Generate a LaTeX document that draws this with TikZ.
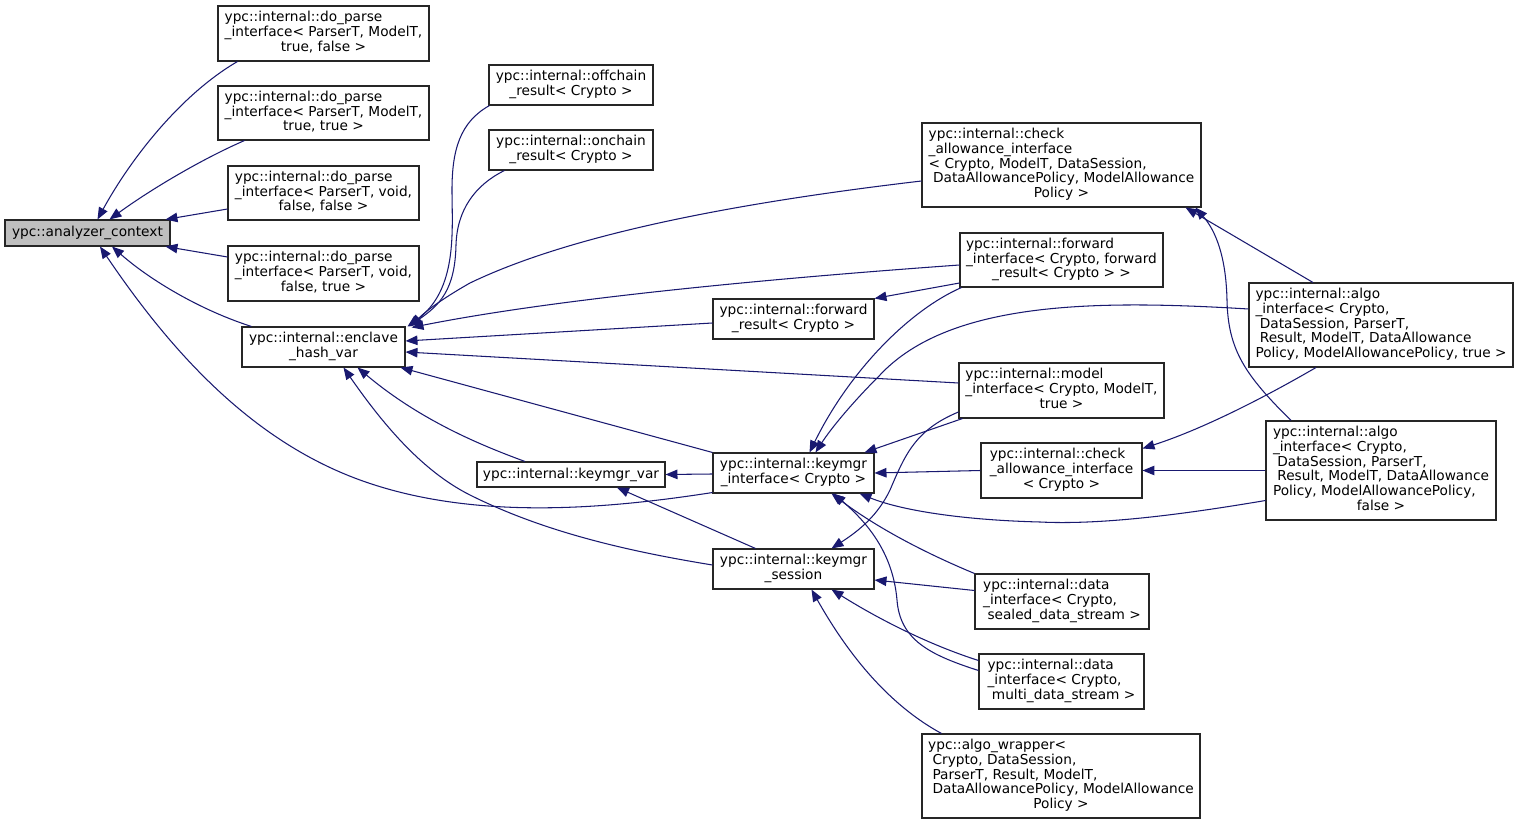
\documentclass[tikz,border=0pt]{standalone}
\usepackage{fontspec}
\setmainfont{DejaVu Sans}
\usetikzlibrary{arrows.meta,calc}
\definecolor{edgec}{RGB}{25,25,112}
\definecolor{acfill}{RGB}{191,191,191}
\newcommand{\mycl}[1]{\multicolumn{1}{@{}c@{}}{#1}}
\newcommand{\mylbl}[1]{\begin{tabular}{@{}l@{}}#1\end{tabular}}
\renewcommand{\arraystretch}{1}
\tikzset{
  box/.style={draw=black!85, line width=0.6pt, inner sep=0pt, align=center, fill=white},
  sz/.style 2 args={minimum width=#1*0.02cm, minimum height=#2*0.02cm},
  inh/.style={draw=edgec, line width=0.6pt, -{Triangle[length=6.8pt,width=5.4pt]}, fill=none}
}
\begin{document}
\begin{tikzpicture}[x=0.02cm, y=-0.02cm, font=\fontsize{7.8}{8.2}\selectfont]
\fill[white] (0,0) rectangle (1519,824);
\useasboundingbox (0,0) rectangle (1519,824);

% nodes
\node[box, sz={165}{26}, fill=acfill] (AC) at (87.5,233) {ypc::analyzer\_context};
\node[box, sz={211}{55}] (dp1) at (323.5,33.5) {\mylbl{ypc::internal::do\_parse\\\_interface< ParserT, ModelT,\\\mycl{true, false >}}};
\node[box, sz={211}{54}] (dp2) at (323.5,113) {\mylbl{ypc::internal::do\_parse\\\_interface< ParserT, ModelT,\\\mycl{true, true >}}};
\node[box, sz={191}{54}] (dp3) at (323.5,193) {\mylbl{ypc::internal::do\_parse\\\_interface< ParserT, void,\\\mycl{false, false >}}};
\node[box, sz={191}{55}] (dp4) at (323.5,273.5) {\mylbl{ypc::internal::do\_parse\\\_interface< ParserT, void,\\\mycl{false, true >}}};
\node[box, sz={163}{40}] (EH) at (323.5,347) {\mylbl{ypc::internal::enclave\\\mycl{\_hash\_var}}};
\node[box, sz={164}{40}] (OFF) at (571,85) {\mylbl{ypc::internal::offchain\\\mycl{\_result< Crypto >}}};
\node[box, sz={164}{40}] (ON) at (571,150) {\mylbl{ypc::internal::onchain\\\mycl{\_result< Crypto >}}};
\node[box, sz={279}{84}] (CB) at (1061.5,165) {\mylbl{ypc::internal::check\\\_allowance\_interface\\< Crypto, ModelT, DataSession,\\\ DataAllowancePolicy, ModelAllowance\\\mycl{Policy >}}};
\node[box, sz={203}{54}] (FI) at (1061.5,260) {\mylbl{ypc::internal::forward\\\_interface< Crypto, forward\\\mycl{\_result< Crypto > >}}};
\node[box, sz={161}{40}] (FR) at (793.5,319) {\mylbl{ypc::internal::forward\\\mycl{\_result< Crypto >}}};
\node[box, sz={264}{84}] (AT) at (1381,325) {\mylbl{ypc::internal::algo\\\_interface< Crypto,\\\ DataSession, ParserT,\\\ Result, ModelT, DataAllowance\\\mycl{Policy, ModelAllowancePolicy, true >}}};
\node[box, sz={205}{55}] (MI) at (1061.5,390.5) {\mylbl{ypc::internal::model\\\_interface< Crypto, ModelT,\\\mycl{true >}}};
\node[box, sz={161}{40}] (KI) at (793.5,473) {\mylbl{ypc::internal::keymgr\\\mycl{\_interface< Crypto >}}};
\node[box, sz={188}{25}] (KV) at (571,474.5) {ypc::internal::keymgr\_var};
\node[box, sz={161}{55}] (CS) at (1061.5,470.5) {\mylbl{ypc::internal::check\\\_allowance\_interface\\\mycl{< Crypto >}}};
\node[box, sz={230}{99}] (AF) at (1381,470.5) {\mylbl{ypc::internal::algo\\\_interface< Crypto,\\\ DataSession, ParserT,\\\ Result, ModelT, DataAllowance\\Policy, ModelAllowancePolicy,\\\mycl{false >}}};
\node[box, sz={161}{40}] (KS) at (793.5,569) {\mylbl{ypc::internal::keymgr\\\mycl{\_session}}};
\node[box, sz={174}{55}] (DS) at (1062,601.5) {\mylbl{ypc::internal::data\\\_interface< Crypto,\\\mycl{\ sealed\_data\_stream >}}};
\node[box, sz={165}{55}] (DM) at (1061.5,681.5) {\mylbl{ypc::internal::data\\\_interface< Crypto,\\\mycl{\ multi\_data\_stream >}}};
\node[box, sz={278}{84}] (AW) at (1061,776) {\mylbl{ypc::algo\_wrapper<\\\ Crypto, DataSession,\\\ ParserT, Result, ModelT,\\\ DataAllowancePolicy, ModelAllowance\\\mycl{Policy >}}};

% edges to analyzer_context
\draw[inh] ($(dp1.south west)+(20,0)$) .. controls (180,95) and (130,160) .. ($(AC.north)+(10,0)$);
\draw[inh] ($(dp2.south west)+(27,0)$) .. controls (200,160) and (150,190) .. ($(AC.north)+(22,0)$);
\draw[inh] ($(dp3.west)+(0,16)$) -- ($(AC.north east)+(-5,0)$);
\draw[inh] ($(dp4.west)+(0,-16.5)$) -- ($(AC.south east)+(-5,0)$);
\draw[inh] ($(EH.north west)+(10,0)$) .. controls (200,310) and (150,280) .. ($(AC.south)+(24.5,0)$);
\draw[inh] ($(KI.south west)+(0,-1)$) .. controls (600,510) and (470,520) .. (360,480) .. controls (250,440) and (170,350) .. ($(AC.south)+(12.5,0)$);

% edges to enclave_hash_var
\draw[inh] ($(OFF.south west)+(1,0)$) .. controls (460,122) and (452,150) .. (452,190) .. controls (452,230) and (458,290) .. ($(EH.north east)+(2,0)$);
\draw[inh] ($(ON.south west)+(16,0)$) .. controls (475,185) and (457,210) .. (456,245) .. controls (455,290) and (440,305) .. ($(EH.north east)+(3,0)$);
\draw[inh] ($(CB.west)+(0,16)$) .. controls (760,200) and (580,230) .. (470,283) .. controls (440,300) and (425,312) .. ($(EH.north east)+(5,0)$);
\draw[inh] ($(FI.west)+(0,5)$) .. controls (750,280) and (550,300) .. ($(EH.north east)+(6,1)$);
\draw[inh] ($(FR.west)+(0,4)$) -- ($(EH.east)+(0,-6)$);
\draw[inh] ($(MI.west)+(0,-7.5)$) -- ($(EH.east)+(0,5)$);
\draw[inh] (KI.north west) -- ($(EH.south east)+(-5,0)$);
\draw[inh] ($(KV.north)+(-46,0)$) .. controls (480,445) and (420,420) .. ($(EH.south)+(34,0)$);
\draw[inh] ($(KS.west)+(0,-4)$) .. controls (620,550) and (540,530) .. (470,495) .. controls (420,470) and (380,420) .. ($(EH.south)+(20,0)$);

% edges to keymgr_var
\draw[inh] ($(KI.west)+(0,1)$) -- (KV.east);
\draw[inh] ($(KS.north)+(-38,0)$) -- ($(KV.south)+(46,0)$);

% edges to keymgr_interface
\draw[inh] ($(FI.south west)+(2,0)$) .. controls (910,310) and (850,370) .. ($(KI.north)+(16,0)$);
\draw[inh] ($(AT.west)+(0,-16)$) .. controls (1100,300) and (950,300) .. (880,375) .. controls (850,405) and (830,430) .. ($(KI.north)+(22,0)$);
\draw[inh] ($(MI.south west)+(4,0)$) -- ($(KI.north east)+(-10,0)$);
\draw[inh] (CS.west) -- (KI.east);
\draw[inh] ($(AF.west)+(0,30)$) .. controls (1180,515) and (1100,525) .. (1040,522) .. controls (960,520) and (900,510) .. ($(KI.south east)+(-15,0)$);
\draw[inh] (DS.north west) .. controls (930,555) and (880,530) .. ($(KI.south)+(38,0)$);
\draw[inh] ($(DM.west)+(0,-11)$) .. controls (930,655) and (900,640) .. (897,600) .. controls (893,555) and (870,525) .. ($(KI.south)+(40,0)$);

% edges to keymgr_session
\draw[inh] ($(MI.west)+(0,21.5)$) .. controls (915,430) and (905,455) .. (890,490) .. controls (878,515) and (860,530) .. ($(KS.north)+(38,0)$);
\draw[inh] ($(DS.west)+(0,-11)$) -- ($(KS.east)+(0,11)$);
\draw[inh] ($(DM.west)+(0,-21)$) .. controls (930,645) and (880,620) .. ($(KS.south)+(38,0)$);
\draw[inh] ($(AW.north west)+(20,0)$) .. controls (880,700) and (840,640) .. ($(KS.south)+(18,0)$);

% edge to forward_result
\draw[inh] ($(FI.west)+(0,23)$) -- (FR.north east);

% edges to check_allowance (big)
\draw[inh] ($(AT.north)+(-68,0)$) -- ($(CB.south east)+(-16,0)$);
\draw[inh] ($(AF.north)+(-90,0)$) .. controls (1245,375) and (1228,350) .. (1227,300) .. controls (1226,255) and (1215,230) .. ($(CB.south east)+(-6,0)$);

% edges to check_allowance (small)
\draw[inh] ($(AT.south)+(-65,0)$) .. controls (1260,400) and (1200,430) .. ($(CS.north east)+(0,6)$);
\draw[inh] (AF.west) -- (CS.east);
\end{tikzpicture}
\end{document}
